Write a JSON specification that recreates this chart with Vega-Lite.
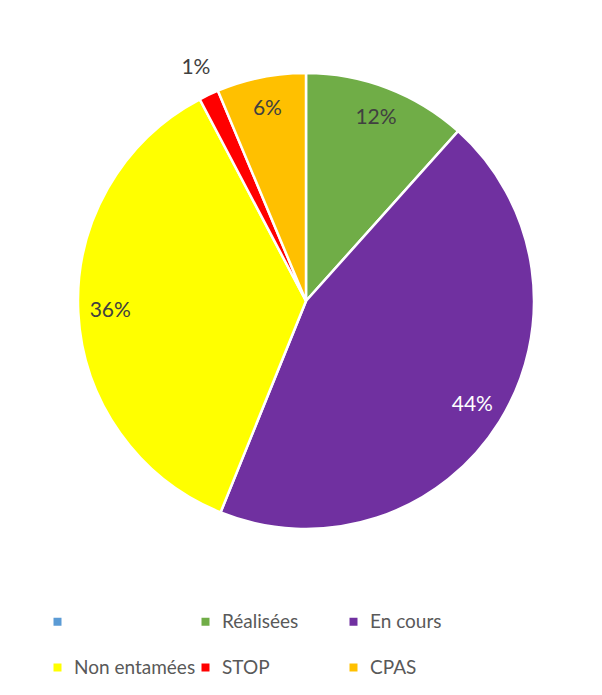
{
  "$schema": "https://vega.github.io/schema/vega-lite/v6.json",
  "width": 592,
  "height": 602,
  "autosize": {"type": "none"},
  "padding": {"left": 10, "top": 0, "right": 0, "bottom": 93},
  "background": "white",
  "config": {"view": {"stroke": null}, "font": "Lato"},
  "data": {
    "values": [
      {"i": 0, "category": "", "value": 0},
      {"i": 1, "category": "Réalisées", "value": 0.116},
      {"i": 2, "category": "En cours", "value": 0.444},
      {"i": 3, "category": "Non entamées", "value": 0.361},
      {"i": 4, "category": "STOP", "value": 0.014},
      {"i": 5, "category": "CPAS", "value": 0.063}
    ]
  },
  "encoding": {
    "theta": {"field": "value", "type": "quantitative", "stack": true},
    "order": {"field": "i", "type": "quantitative"}
  },
  "layer": [
    {
      "mark": {"type": "arc", "outerRadius": 228, "stroke": "white", "strokeWidth": 2.5},
      "encoding": {
        "color": {
          "field": "category",
          "type": "nominal",
          "scale": {
            "domain": ["", "Réalisées", "En cours", "Non entamées", "STOP", "CPAS"],
            "range": ["#5B9BD5", "#70AD47", "#7030A0", "#FFFF00", "#FF0000", "#FFC000"]
          },
          "legend": {
            "title": null,
            "orient": "none",
            "legendX": 38,
            "legendY": 612,
            "direction": "horizontal",
            "columns": 3,
            "gridAlign": "all",
            "columnPadding": 0,
            "rowPadding": 26,
            "symbolType": "square",
            "symbolSize": 64,
            "symbolStrokeWidth": 0,
            "labelFont": "Lato",
            "labelFontSize": 19,
            "labelColor": "#595959",
            "labelOffset": 7,
            "labelLimit": 300,
            "padding": 0
          }
        }
      }
    },
    {
      "transform": [{"filter": "datum.value > 0"}],
      "mark": {"type": "text", "font": "Lato", "fontSize": 21, "radius": {"expr": "datum.category == 'STOP' ? 258 : 196"}},
      "encoding": {
        "text": {"field": "value", "type": "quantitative", "format": ".0%"},
        "color": {"condition": {"test": "datum.category == 'En cours'", "value": "white"}, "value": "#404040"}
      }
    }
  ]
}
